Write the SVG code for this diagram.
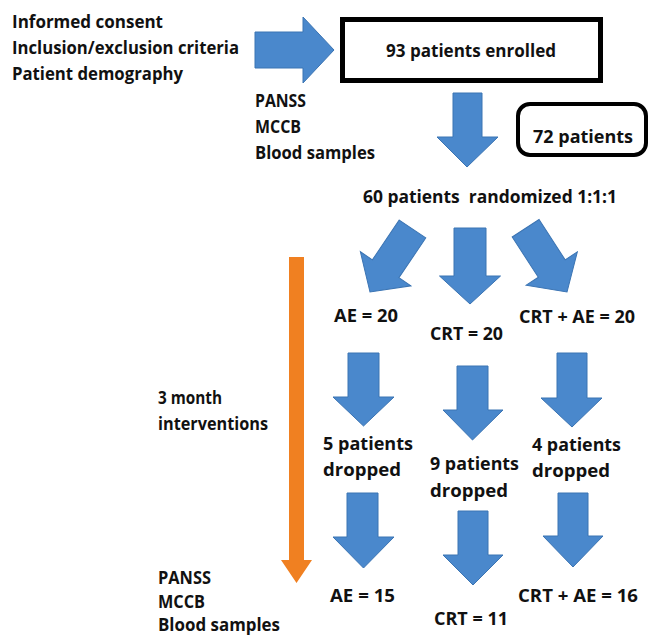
<svg xmlns="http://www.w3.org/2000/svg" width="651" height="635" viewBox="0 0 651 635">
<style>
text{font-family:"Open Sans","Liberation Sans",sans-serif;font-weight:bold;font-size:17.5px;fill:#111;}
.blue{fill:#4a88cc;stroke:#3b74b3;stroke-width:1;}
.orange{fill:#f08021;}
.box{fill:#fff;stroke:#000;}
</style>
<defs>
<path id="darrow" d="M-16,-76 L16,-76 L16,-28 L30.5,-28 L0,0 L-30.5,-28 L-16,-28 Z"/>
</defs>
<rect width="651" height="635" fill="#fff"/>
<g id="connectors">
<path class="blue" d="M255,32 L303,32 L303,17 L334,50 L303,83 L303,68 L255,68 Z"/>
<path class="blue" d="M453,93 L482,93 L482,137 L498,137 L467,167 L437,137 L453,137 Z"/>
<use href="#darrow" class="blue" transform="translate(370,292) rotate(34)"/>
<use href="#darrow" class="blue" transform="translate(470,304)"/>
<use href="#darrow" class="blue" transform="translate(567,292) rotate(-33)"/>
<path class="blue" d="M348,353 L379,353 L379,397 L394,397 L363.5,426 L333,397 L348,397 Z"/>
<path class="blue" d="M457,366 L488,366 L488,410 L503,410 L472.5,440 L443,410 L457,410 Z"/>
<path class="blue" d="M557,353 L587,353 L587,398 L602,398 L572,427 L541,398 L557,398 Z"/>
<path class="blue" d="M347,493 L378,493 L378,537 L394,537 L363.5,568 L333,537 L347,537 Z"/>
<path class="blue" d="M458,511 L488,511 L488,555 L503,555 L473,585 L443,555 L458,555 Z"/>
<path class="blue" d="M558,493 L588,493 L588,536 L603,536 L573,567 L543,536 L558,536 Z"/>
<path class="orange" d="M289,257 L304,257 L304,560 L312,560 L296.5,583 L281,560 L289,560 Z"/>
</g>
<g id="inputs">
<text x="12" y="28" textLength="151" lengthAdjust="spacingAndGlyphs">Informed consent</text>
<text x="12" y="54" textLength="227" lengthAdjust="spacingAndGlyphs">Inclusion/exclusion criteria</text>
<text x="12" y="80" textLength="171" lengthAdjust="spacingAndGlyphs">Patient demography</text>
</g>
<g id="enrolled">
<rect class="box" x="342.5" y="19.5" width="258" height="61" stroke-width="5"/>
<text x="386" y="57" textLength="170" lengthAdjust="spacingAndGlyphs">93 patients enrolled</text>
</g>
<g id="baseline-measures">
<text x="255" y="107" textLength="51" lengthAdjust="spacingAndGlyphs">PANSS</text>
<text x="255" y="133" textLength="46" lengthAdjust="spacingAndGlyphs">MCCB</text>
<text x="255" y="159" textLength="120" lengthAdjust="spacingAndGlyphs">Blood samples</text>
</g>
<g id="screened">
<rect class="box" x="518" y="104" width="128" height="51" rx="12" stroke-width="4"/>
<text x="533" y="143" textLength="100" lengthAdjust="spacingAndGlyphs">72 patients</text>
</g>
<g id="randomized">
<text x="363" y="203" textLength="254" lengthAdjust="spacingAndGlyphs" xml:space="preserve">60 patients  randomized 1:1:1</text>
</g>
<g id="ae20"><text x="334" y="322" textLength="64" lengthAdjust="spacingAndGlyphs">AE = 20</text></g>
<g id="crt20"><text x="430" y="340" textLength="73" lengthAdjust="spacingAndGlyphs">CRT = 20</text></g>
<g id="crtae20"><text x="519" y="323" textLength="116" lengthAdjust="spacingAndGlyphs">CRT + AE = 20</text></g>
<g id="intervention">
<text x="158" y="404" textLength="64" lengthAdjust="spacingAndGlyphs">3 month</text>
<text x="158" y="430" textLength="110" lengthAdjust="spacingAndGlyphs">interventions</text>
</g>
<g id="drop-ae">
<text x="323" y="450" textLength="90" lengthAdjust="spacingAndGlyphs">5 patients</text>
<text x="323" y="476" textLength="78" lengthAdjust="spacingAndGlyphs">dropped</text>
</g>
<g id="drop-crt">
<text x="430" y="470" textLength="89" lengthAdjust="spacingAndGlyphs">9 patients</text>
<text x="430" y="497" textLength="78" lengthAdjust="spacingAndGlyphs">dropped</text>
</g>
<g id="drop-crtae">
<text x="532" y="451" textLength="89" lengthAdjust="spacingAndGlyphs">4 patients</text>
<text x="532" y="477" textLength="78" lengthAdjust="spacingAndGlyphs">dropped</text>
</g>
<g id="ae15"><text x="330" y="602" textLength="65" lengthAdjust="spacingAndGlyphs">AE = 15</text></g>
<g id="crt11"><text x="434" y="625" textLength="74" lengthAdjust="spacingAndGlyphs">CRT = 11</text></g>
<g id="crtae16"><text x="518" y="602" textLength="120" lengthAdjust="spacingAndGlyphs">CRT + AE = 16</text></g>
<g id="followup-measures">
<text x="158" y="584" textLength="53" lengthAdjust="spacingAndGlyphs">PANSS</text>
<text x="158" y="608" textLength="47" lengthAdjust="spacingAndGlyphs">MCCB</text>
<text x="158" y="631" textLength="122" lengthAdjust="spacingAndGlyphs">Blood samples</text>
</g>
</svg>
